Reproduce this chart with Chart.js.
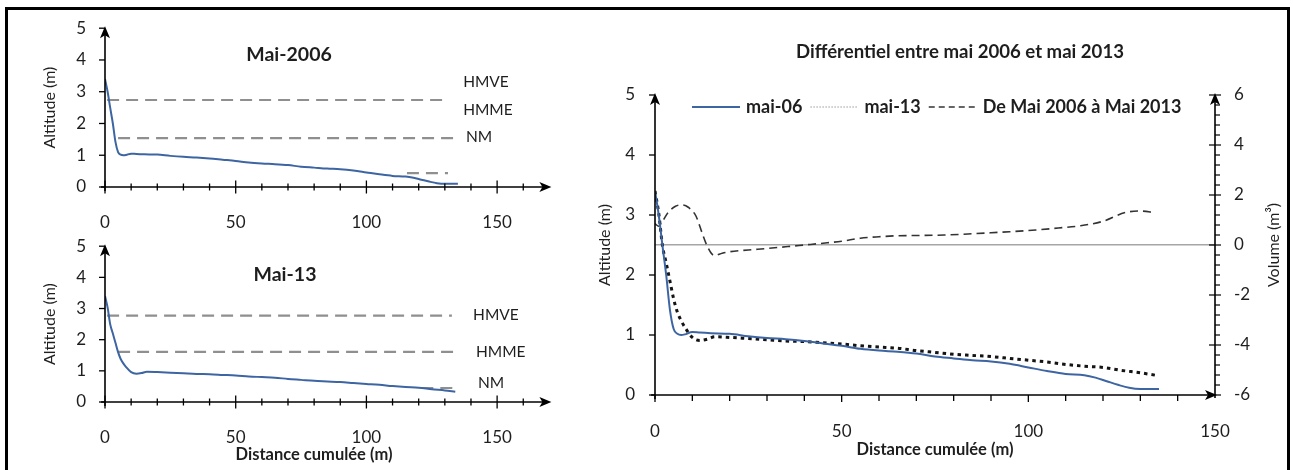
<!DOCTYPE html>
<html>
<head>
<meta charset="utf-8">
<script src="https://cdn.jsdelivr.net/npm/chart.js@4.4.1/dist/chart.umd.min.js"></script>
<style>
  body { margin: 0; background: #fff; }
  #frame { position: absolute; left: 5px; top: 7px; width: 1279px; height: 470px; border: 3px solid #000; border-bottom: none; }
  canvas { position: absolute; }
</style>
</head>
<body>
<div id="frame"></div>
<canvas id="chart2006" width="580" height="265" style="left:0;top:-1.2px"></canvas>
<canvas id="chart2013" width="580" height="253" style="left:0;top:217px"></canvas>
<canvas id="chartDiff" width="705" height="470" style="left:580px;top:0"></canvas>
<script>
/* ========== Données =============== */

const distance06 = [0, 1, 2, 3, 4, 5, 6, 7, 8, 10, 12, 15, 20, 25, 30, 35, 40, 45, 50, 55, 60, 65, 70, 75, 80, 85, 90, 95, 100, 105, 110, 115, 118, 121, 124, 127, 130, 135];
const altitude06 = [3.4, 3.0, 2.49, 2.0, 1.42, 1.1, 1.02, 1.0, 1.01, 1.05, 1.04, 1.03, 1.02, 0.98, 0.95, 0.93, 0.9, 0.86, 0.82, 0.77, 0.74, 0.72, 0.69, 0.64, 0.61, 0.58, 0.56, 0.52, 0.46, 0.4, 0.35, 0.33, 0.29, 0.23, 0.17, 0.12, 0.1, 0.1];

const distance13 = [0, 1, 2, 3, 4, 5, 6, 7, 8, 10, 12, 14, 16, 20, 25, 30, 35, 40, 45, 50, 55, 60, 65, 70, 75, 80, 85, 90, 95, 100, 105, 110, 115, 120, 125, 130, 134];
const altitude13 = [3.4, 3.03, 2.49, 2.2, 1.9, 1.6, 1.38, 1.24, 1.13, 0.96, 0.91, 0.93, 0.97, 0.96, 0.94, 0.92, 0.9, 0.89, 0.87, 0.85, 0.82, 0.8, 0.78, 0.74, 0.71, 0.68, 0.66, 0.64, 0.61, 0.58, 0.55, 0.51, 0.48, 0.46, 0.41, 0.37, 0.33];

const distanceDiff = [0, 1, 2, 3.5, 5.5, 7.4, 9, 11, 12.7, 14, 15.9, 18, 20, 25, 30, 35, 40, 45, 50, 55, 60, 65, 70, 77.5, 85, 90, 95, 102, 108, 114, 120, 126, 130, 134];
const volumeDiff = [0.85, 0.75, 0.95, 1.3, 1.55, 1.6, 1.5, 1.15, 0.45, -0.05, -0.42, -0.33, -0.27, -0.2, -0.14, -0.07, 0.0, 0.07, 0.15, 0.27, 0.33, 0.37, 0.38, 0.4, 0.45, 0.49, 0.53, 0.6, 0.68, 0.77, 0.95, 1.3, 1.36, 1.29];

const xTickLabels = [0, 50, 100, 150];
const volumeTickLabels = [-6, -4, -2, 0, 2, 4, 6];

// niveaux de référence (HMVE, HMME, NM)
const refNames = ['HMVE', 'HMME', 'NM'];
const refLevel2006 = [2.74, 1.54, 0.44];
const refFrom2006 = [0.8, 5, 115.5];
const refTo2006 = [131.2, 133.9, 131.2];
const refLabelX2006 = [137, 137, 138.1];
const refLabelY2006 = [3.30, 2.42, 1.57];

const refLevel2013 = [2.77, 1.61, 0.45];
const refFrom2013 = [0.8, 5, 121];
const refTo2013 = [132.7, 135, 135];
const refLabelX2013 = [140.8, 141.9, 142.7];
const refLabelY2013 = [2.80, 1.61, 0.61];

/* ========== Styles =============== */

const FONT = 'Lato, "Open Sans", sans-serif';
const TEXT = '#1e1e1e';
const BLUE = '#3d65a2';

function points(xs, ys) {
    return xs.map((x, i) => ({ x: x, y: ys[i] }));
}

function fixWidth(w) {
    return function (scale) { scale.width = w; };
}

function fixHeight(h) {
    return function (scale) { scale.height = h; };
}

function xTickLabel(value) {
    return xTickLabels.includes(value) ? String(value) : '';
}

function volumeTickLabel(value) {
    const v = Math.round(value * 10) / 10;
    return volumeTickLabels.includes(v) ? String(v) : '';
}

function refDatasets(levels, from, to) {
    return levels.map((lvl, i) => ({
        label: refNames[i],
        data: [{ x: from[i], y: lvl }, { x: to[i], y: lvl }],
        borderColor: '#8f8f8f',
        borderWidth: 2.2,
        borderDash: [12, 7],
        pointRadius: 0,
        fill: false
    }));
}

function refLabels(xs, ys) {
    return refNames.map((name, i) => ({ text: name, x: xs[i], y: ys[i], data: true, align: 'left', font: '15.5px ' + FONT }));
}

/* ========== Plugins =============== */

function drawArrow(ctx, x, y, dir) {
    ctx.beginPath();
    if (dir === 'up') {
        ctx.moveTo(x, y - 2);
        ctx.lineTo(x - 5, y + 10);
        ctx.lineTo(x, y + 7);
        ctx.lineTo(x + 5, y + 10);
    } else {
        ctx.moveTo(x + 2, y);
        ctx.lineTo(x - 10, y - 5);
        ctx.lineTo(x - 7, y);
        ctx.lineTo(x - 10, y + 5);
    }
    ctx.closePath();
    ctx.fill();
}

function seg(ctx, x1, y1, x2, y2) {
    ctx.beginPath();
    ctx.moveTo(x1, y1);
    ctx.lineTo(x2, y2);
    ctx.stroke();
}

const excelAxes = {
    id: 'excelAxes',
    afterDatasetsDraw(chart, args, opts) {
        const ctx = chart.ctx;
        const xs = chart.scales.x;
        const ys = chart.scales.y;
        const x0 = xs.getPixelForValue(0);
        const y0 = ys.getPixelForValue(0);
        const xEnd = xs.getPixelForValue(xs.max);
        const yTop = ys.getPixelForValue(ys.max);
        ctx.save();
        ctx.strokeStyle = '#000';
        ctx.fillStyle = '#000';
        ctx.lineWidth = 1.6;
        seg(ctx, x0 - 4, y0, xEnd - 4, y0);
        seg(ctx, x0, y0 + 4, x0, yTop + 4);
        drawArrow(ctx, xEnd, y0, 'right');
        drawArrow(ctx, x0, yTop, 'up');
        ctx.lineWidth = 1.3;
        xs.ticks.forEach(t => {
            if (t.value >= xs.max) return;
            const px = xs.getPixelForValue(t.value);
            const major = t.value % 50 === 0;
            if (opts.cross) {
                const L = major ? 6.5 : 3.5;
                seg(ctx, px, y0 - L, px, y0 + L);
            } else {
                seg(ctx, px, y0, px, y0 + (major ? 7 : 6));
            }
        });
        ys.ticks.forEach(t => {
            const py = ys.getPixelForValue(t.value);
            seg(ctx, x0 - 6, py, x0, py);
        });
        const y2 = chart.scales.y2;
        if (y2) {
            const xr = xs.getPixelForValue(xs.max);
            ctx.lineWidth = 1.6;
            seg(ctx, xr, y2.getPixelForValue(y2.min) + 3, xr, y2.getPixelForValue(y2.max) + 4);
            drawArrow(ctx, xr, y2.getPixelForValue(y2.max), 'up');
            ctx.lineWidth = 1.2;
            y2.ticks.forEach(t => {
                const py = y2.getPixelForValue(t.value);
                if (volumeTickLabel(t.value) !== '') seg(ctx, xr - 6, py, xr + 6, py);
                else seg(ctx, xr, py, xr + 5, py);
            });
        }
        ctx.restore();
    }
};

const texts = {
    id: 'texts',
    afterDraw(chart, args, opts) {
        const ctx = chart.ctx;
        ctx.save();
        (opts.items || []).forEach(it => {
            let x = it.x;
            let y = it.y;
            if (it.data) {
                x = chart.scales.x.getPixelForValue(it.x);
                y = chart.scales.y.getPixelForValue(it.y);
            }
            ctx.font = it.font;
            ctx.fillStyle = it.color || TEXT;
            ctx.textAlign = it.align || 'center';
            ctx.textBaseline = 'middle';
            ctx.translate(x, y);
            if (it.rotate) ctx.rotate(it.rotate);
            ctx.fillText(it.text, 0, 0);
            if (it.rotate) ctx.rotate(-it.rotate);
            ctx.translate(-x, -y);
        });
        ctx.restore();
    }
};

// légende en ligne, dans la zone du graphique, avec le style de chaque série
const lineLegend = {
    id: 'lineLegend',
    afterDraw(chart, args, opts) {
        if (!opts.x) return;
        const ctx = chart.ctx;
        let x = opts.x;
        const y = opts.y;
        ctx.save();
        ctx.font = opts.font;
        ctx.textBaseline = 'middle';
        ctx.textAlign = 'left';
        chart.data.datasets.forEach(ds => {
            ctx.strokeStyle = ds.legendColor || ds.borderColor;
            ctx.lineWidth = ds.legendWidth || ds.borderWidth;
            ctx.setLineDash(ds.legendDash || ds.borderDash || []);
            seg(ctx, x, y, x + opts.sample, y);
            ctx.setLineDash([]);
            x += opts.sample + opts.gap;
            ctx.fillStyle = TEXT;
            ctx.fillText(ds.label, x, y);
            x += ctx.measureText(ds.label).width + opts.spacing;
        });
        ctx.restore();
    }
};

Chart.register(excelAxes, texts, lineLegend);

/* ========== Graphiques de gauche =============== */

function leftChart(canvasId, distance, altitude, refs, labels, title, opt) {
    return new Chart(document.getElementById(canvasId), {
        type: 'line',
        data: {
            datasets: [{
                label: title,
                data: points(distance, altitude),
                borderColor: BLUE,
                borderWidth: 2,
                pointRadius: 0,
                tension: 0.4,
                cubicInterpolationMode: 'monotone',
                fill: false
            }].concat(refs)
        },
        options: {
            responsive: false,
            animation: false,
            // le haut de la zone est fixé par la demi-hauteur du libellé "5" + son padding
            layout: { padding: { left: 0, right: 30.6, top: 0, bottom: 0 } },
            scales: {
                x: {
                    type: 'linear',
                    min: 0,
                    max: 170,
                    grid: { display: false, drawTicks: false },
                    border: { display: false },
                    ticks: {
                        stepSize: 10,
                        autoSkip: false,
                        maxRotation: 0,
                        padding: 25,
                        color: TEXT,
                        font: { family: FONT, size: 17 },
                        callback: xTickLabel
                    },
                    afterFit: fixHeight(opt.xHeight)
                },
                y: {
                    type: 'linear',
                    min: 0,
                    max: 5,
                    grid: { display: false, drawTicks: false },
                    border: { display: false },
                    ticks: { stepSize: 1, padding: 19, color: TEXT, font: { family: FONT, size: 17 } },
                    title: {
                        display: true,
                        text: 'Altitude (m)',
                        color: TEXT,
                        font: { family: FONT, size: 16 },
                        padding: { top: 40, bottom: 0 }
                    },
                    afterFit: fixWidth(105)
                }
            },
            plugins: {
                legend: { display: false },
                tooltip: { enabled: false },
                excelAxes: { cross: true },
                texts: {
                    items: [{ text: title, x: opt.titleX, y: opt.titleY, font: 'bold 19.5px ' + FONT }]
                        .concat(labels)
                        .concat(opt.extra || [])
                }
            }
        }
    });
}

leftChart('chart2006', distance06, altitude06,
    refDatasets(refLevel2006, refFrom2006, refTo2006),
    refLabels(refLabelX2006, refLabelY2006),
    'Mai-2006',
    { xHeight: 77, titleX: 289, titleY: 56 });

leftChart('chart2013', distance13, altitude13,
    refDatasets(refLevel2013, refFrom2013, refTo2013),
    refLabels(refLabelX2013, refLabelY2013),
    'Mai-13',
    {
        xHeight: 68, titleX: 285, titleY: 58,
        extra: [{ text: 'Distance cumulée (m)', x: 314, y: 238, font: 'bold 16.5px ' + FONT }]
    });

/* ========== Différentiel =============== */

new Chart(document.getElementById('chartDiff'), {
    type: 'line',
    data: {
        datasets: [{
            label: 'mai-06',
            data: points(distance06, altitude06),
            borderColor: BLUE,
            borderWidth: 2,
            pointRadius: 0,
            tension: 0.4,
            cubicInterpolationMode: 'monotone',
            yAxisID: 'y'
        }, {
            label: 'mai-13',
            data: points(distance13, altitude13),
            borderColor: '#141414',
            borderWidth: 3,
            borderDash: [3.5, 4],
            legendColor: '#9a9a9a',
            legendWidth: 1,
            legendDash: [1.5, 1.5],
            pointRadius: 0,
            tension: 0.4,
            cubicInterpolationMode: 'monotone',
            yAxisID: 'y'
        }, {
            label: 'De Mai 2006 à Mai 2013',
            data: points(distanceDiff, volumeDiff),
            borderColor: '#333333',
            borderWidth: 1.6,
            borderDash: [8, 5],
            legendDash: [6, 4],
            pointRadius: 0,
            tension: 0.4,
            cubicInterpolationMode: 'monotone',
            yAxisID: 'y2'
        }]
    },
    options: {
        responsive: false,
        animation: false,
        layout: { padding: { left: 0, right: 0, top: 95, bottom: 0 } },
        scales: {
            x: {
                type: 'linear',
                min: 0,
                max: 150,
                grid: { display: false, drawTicks: false },
                border: { display: false },
                ticks: {
                    stepSize: 10,
                    autoSkip: false,
                    maxRotation: 0,
                    padding: 26,
                    color: TEXT,
                    font: { family: FONT, size: 17 },
                    callback: xTickLabel
                },
                title: {
                    display: true,
                    text: 'Distance cumulée (m)',
                    color: TEXT,
                    font: { family: FONT, size: 16.5, weight: 'bold' },
                    padding: { top: 0, bottom: 10 }
                },
                afterFit: fixHeight(75)
            },
            y: {
                type: 'linear',
                position: 'left',
                min: 0,
                max: 5,
                grid: { display: false, drawTicks: false },
                border: { display: false },
                ticks: { stepSize: 1, padding: 20, color: TEXT, font: { family: FONT, size: 17 } },
                title: {
                    display: true,
                    text: 'Altitude (m)',
                    color: TEXT,
                    font: { family: FONT, size: 16 },
                    padding: { top: 15, bottom: 0 }
                },
                afterFit: fixWidth(75)
            },
            y2: {
                type: 'linear',
                position: 'right',
                min: -6,
                max: 6,
                grid: {
                    drawOnChartArea: true,
                    drawTicks: false,
                    lineWidth: 1.5,
                    color: ctx => ctx.tick && Math.abs(ctx.tick.value) < 1e-6 ? '#a6a6a6' : 'rgba(0,0,0,0)'
                },
                border: { display: false },
                ticks: {
                    stepSize: 0.4,
                    autoSkip: false,
                    padding: 19,
                    color: TEXT,
                    font: { family: FONT, size: 17 },
                    callback: volumeTickLabel
                },
                afterFit: fixWidth(70)
            }
        },
        plugins: {
            legend: { display: false },
            tooltip: { enabled: false },
            excelAxes: { cross: false },
            lineLegend: { x: 112, y: 107, sample: 48, gap: 6, spacing: 8, font: 'bold 18px ' + FONT },
            texts: {
                items: [
                    { text: 'Différentiel entre mai 2006 et mai 2013', x: 380, y: 52, font: 'bold 18.6px ' + FONT },
                    { text: 'Volume (m³)', x: 694, y: 245, rotate: -Math.PI / 2, font: '16px ' + FONT }
                ]
            }
        }
    }
});
</script>
</body>
</html>
